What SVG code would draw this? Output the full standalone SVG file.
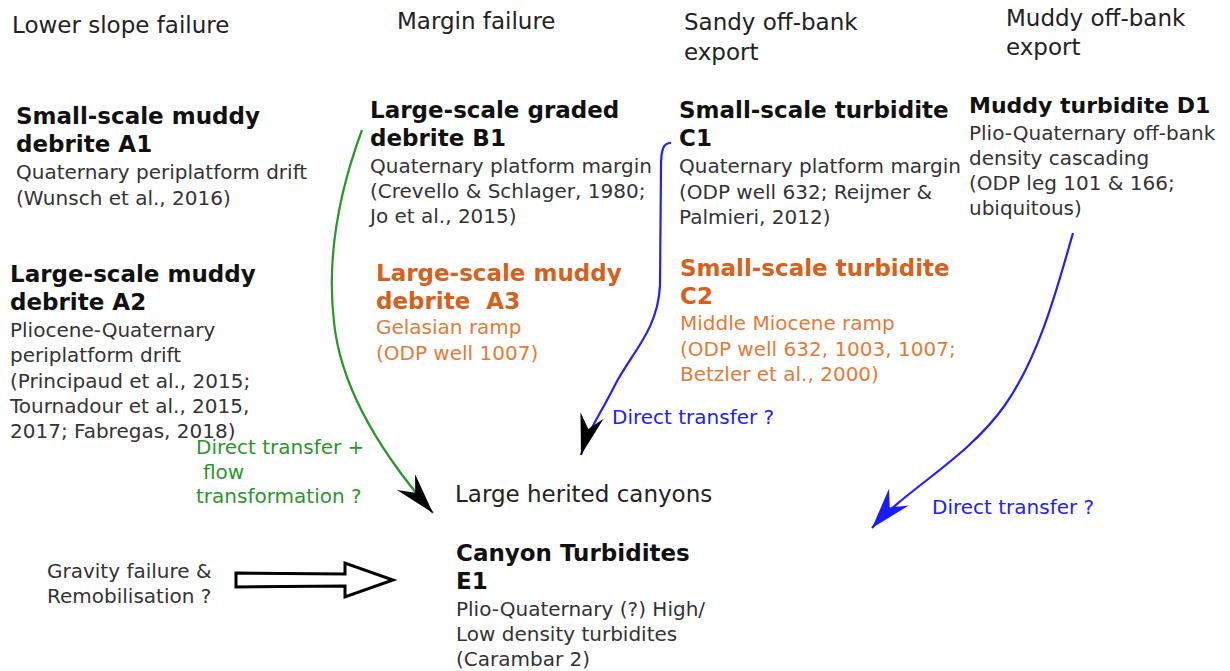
<svg xmlns="http://www.w3.org/2000/svg" width="1230" height="671" viewBox="0 0 1230 671">
<style>
text{font-family:"DejaVu Sans",Verdana,sans-serif}
.hd{font-size:23px;fill:#222}
.tt{font-size:23px;font-weight:bold;fill:#111}
.bd{font-size:20px;fill:#333}
.ot{font-size:23px;font-weight:bold;fill:#d8601a}
.ob{font-size:20px;fill:#e57a35}
.gr{font-size:20px;fill:#2a962a}
.bl{font-size:20px;fill:#2020ff}
.lbl{font-size:20px;fill:#222}
</style>
<defs>
<marker id="hb" markerUnits="userSpaceOnUse" markerWidth="60" markerHeight="40" viewBox="-45 -20 60 40" refX="0" refY="0" orient="auto">
<path d="M0,0 L-41,-12 L-27,0 L-41,12 Z" fill="#000"/>
</marker>
<marker id="hu" markerUnits="userSpaceOnUse" markerWidth="60" markerHeight="40" viewBox="-45 -20 60 40" refX="0" refY="0" orient="auto">
<path d="M0,0 L-41,-13 L-27,0 L-41,13 Z" fill="#1a1aff"/>
</marker>
</defs>
<rect width="1230" height="671" fill="#fff"/>

<g id="headers">
<text class="hd" x="12" y="33">Lower slope failure</text>
<text class="hd" x="397" y="29">Margin failure</text>
<text class="hd" x="684" y="30">Sandy off-bank</text>
<text class="hd" x="684" y="60">export</text>
<text class="hd" x="1006" y="26">Muddy off-bank</text>
<text class="hd" x="1006" y="55">export</text>
</g>

<g id="A1">
<text class="tt" x="16" y="124">Small-scale muddy</text>
<text class="tt" x="16" y="152">debrite A1</text>
<text class="bd" x="16" y="179">Quaternary periplatform drift</text>
<text class="bd" x="16" y="205">(Wunsch et al., 2016)</text>
</g>

<g id="A2">
<text class="tt" x="10" y="282">Large-scale muddy</text>
<text class="tt" x="10" y="310">debrite A2</text>
<text class="bd" x="10" y="337">Pliocene-Quaternary</text>
<text class="bd" x="10" y="362">periplatform drift</text>
<text class="bd" x="10" y="388">(Principaud et al., 2015;</text>
<text class="bd" x="10" y="413">Tournadour et al., 2015,</text>
<text class="bd" x="10" y="438">2017; Fabregas, 2018)</text>
</g>

<g id="B1">
<text class="tt" x="370" y="118">Large-scale graded</text>
<text class="tt" x="370" y="146">debrite B1</text>
<text class="bd" x="370" y="173">Quaternary platform margin</text>
<text class="bd" x="370" y="198">(Crevello &amp; Schlager, 1980;</text>
<text class="bd" x="370" y="223">Jo et al., 2015)</text>
</g>

<g id="A3">
<text class="ot" x="376" y="281">Large-scale muddy</text>
<text class="ot" x="376" y="309" xml:space="preserve">debrite  A3</text>
<text class="ob" x="376" y="334">Gelasian ramp</text>
<text class="ob" x="376" y="360">(ODP well 1007)</text>
</g>

<g id="C1">
<text class="tt" x="679" y="118">Small-scale turbidite</text>
<text class="tt" x="679" y="146">C1</text>
<text class="bd" x="679" y="173">Quaternary platform margin</text>
<text class="bd" x="679" y="199">(ODP well 632; Reijmer &amp;</text>
<text class="bd" x="679" y="224">Palmieri, 2012)</text>
</g>

<g id="C2">
<text class="ot" x="680" y="276">Small-scale turbidite</text>
<text class="ot" x="680" y="304">C2</text>
<text class="ob" x="680" y="330">Middle Miocene ramp</text>
<text class="ob" x="680" y="356">(ODP well 632, 1003, 1007;</text>
<text class="ob" x="680" y="381">Betzler et al., 2000)</text>
</g>

<g id="D1">
<text class="tt" x="969" y="113" style="font-size:22px">Muddy turbidite D1</text>
<text class="bd" x="969" y="140">Plio-Quaternary off-bank</text>
<text class="bd" x="969" y="165">density cascading</text>
<text class="bd" x="969" y="190">(ODP leg 101 &amp; 166;</text>
<text class="bd" x="969" y="215">ubiquitous)</text>
</g>

<g id="canyons">
<text class="lbl" x="455" y="502" style="font-size:23px">Large herited canyons</text>
</g>

<g id="E1">
<text class="tt" x="456" y="561">Canyon Turbidites</text>
<text class="tt" x="456" y="589">E1</text>
<text class="bd" x="456" y="616">Plio-Quaternary (?) High/</text>
<text class="bd" x="456" y="641">Low density turbidites</text>
<text class="bd" x="456" y="666">(Carambar 2)</text>
</g>

<g id="gravity">
<text class="bd" x="47" y="578">Gravity failure &amp;</text>
<text class="bd" x="47" y="603">Remobilisation ?</text>
</g>

<g id="connectors">
<path d="M362,130 C336,200 327,262 334,322 C341,392 385,458 433,513" fill="none" stroke="#2a962a" stroke-width="2.2" marker-end="url(#hb)"/>
<path d="M671,143 C664,143 661,148 661,166 L660,285 C658,330 632,352 615,385 C600,415 588,430 581,455" fill="none" stroke="#2020ff" stroke-width="2.2" marker-end="url(#hb)"/>
<path d="M1073,233 C1058,285 1040,355 1005,405 C968,458 905,490 872,528" fill="none" stroke="#2020ff" stroke-width="2.2" marker-end="url(#hu)"/>
<path d="M236,573 L345,574 L345,563 L393,580 L345,597 L345,586 L236,587 Z" fill="#fff" stroke="#000" stroke-width="3" stroke-linejoin="miter"/>
<text class="gr" x="196" y="454">Direct transfer +</text>
<text class="gr" x="203" y="479">flow</text>
<text class="gr" x="196" y="503">transformation ?</text>
<text class="bl" x="612" y="424">Direct transfer ?</text>
<text class="bl" x="932" y="514">Direct transfer ?</text>
</g>
</svg>
